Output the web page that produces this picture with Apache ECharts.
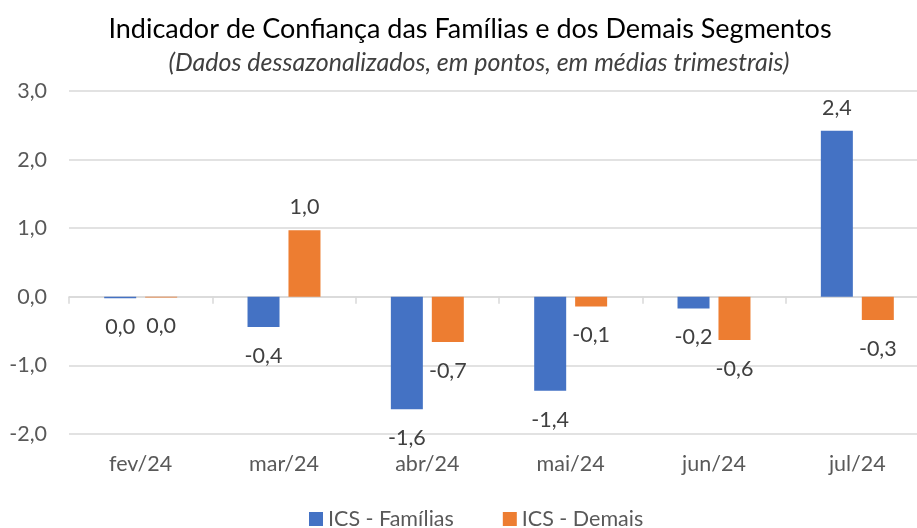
<!DOCTYPE html>
<html>
<head>
<meta charset="utf-8">
<script src="https://cdn.jsdelivr.net/npm/echarts@6/dist/echarts.min.js"></script>
<style>
  html, body { margin: 0; padding: 0; background: #fff; overflow: hidden; }
  #main { width: 935px; height: 528px; }
</style>
</head>
<body>
<div id="main"></div>
<script>
// dados
var meses = ['fev/24', 'mar/24', 'abr/24', 'mai/24', 'jun/24', 'jul/24'];
var familias = [-0.02, -0.44, -1.64, -1.37, -0.17, 2.42];
var demais = [-0.01, 0.97, -0.66, -0.14, -0.63, -0.34];
var nomes = ['ICS - Famílias', 'ICS - Demais'];
var cores = ['#4472C4', '#ED7D31'];

var fonte = 'Lato, "Noto Sans", sans-serif';
var tam = 21.5;

function fmt(v) {
    var s = (Math.round(v * 10) / 10).toFixed(1);
    if (s === '-0.0') s = '0.0';
    return s.replace('.', ',');
}

// label acima da barra se positivo, abaixo se negativo
function montaDados(lista) {
    return lista.map(function(v) {
        return {
            value: v,
            label: v < 0 ? { position: 'bottom', distance: 18 } : { position: 'top', distance: 12 }
        };
    });
}

var chart = echarts.init(document.getElementById('main'));

function serie(i, lista) {
    return {
        name: nomes[i],
        type: 'bar',
        barWidth: 32,
        barGap: '28%',
        itemStyle: { color: cores[i] },
        label: {
            show: true,
            color: '#404040',
            fontSize: tam,
            fontFamily: fonte,
            formatter: function(p) { return fmt(p.value); }
        },
        data: montaDados(lista)
    };
}

chart.setOption({
    animation: false,
    title: [{
        text: 'Indicador de Confiança das Famílias e dos Demais Segmentos',
        left: 465, top: 11, textAlign: 'center',
        textStyle: { fontFamily: fonte, fontSize: 27, fontWeight: 'normal', color: '#000' }
    }, {
        text: '(Dados dessazonalizados, em pontos, em médias trimestrais)',
        left: 474, top: 45, textAlign: 'center',
        textStyle: { fontFamily: fonte, fontSize: 25, fontStyle: 'italic', fontWeight: 'normal', color: '#404040' }
    }],
    legend: {
        top: 508,
        left: 309,
        padding: 0,
        itemWidth: 14, itemHeight: 14,
        itemGap: 49,
        icon: 'rect',
        textStyle: { fontFamily: fonte, fontSize: tam, color: '#595959' },
        data: nomes
    },
    grid: { left: 69, top: 91, width: 860, height: 343 },
    xAxis: [{
        type: 'category',
        data: meses,
        axisLine: { onZero: true, lineStyle: { color: '#d9d9d9', width: 1.5 } },
        axisTick: { show: true, length: 7, lineStyle: { color: '#d9d9d9', width: 1.5 } },
        axisLabel: { show: false }
    }, {
        type: 'category',
        data: meses,
        position: 'bottom',
        axisLine: { show: false },
        axisTick: { show: false },
        axisLabel: { margin: 19, color: '#595959', fontSize: tam, fontFamily: fonte }
    }],
    yAxis: {
        type: 'value',
        min: -2, max: 3, interval: 1,
        axisLine: { show: false },
        axisTick: { show: false },
        splitLine: { lineStyle: { color: '#d9d9d9', width: 1.5 } },
        axisLabel: {
            margin: 22, color: '#595959', fontSize: tam, fontFamily: fonte,
            formatter: function(v) { return v.toFixed(1).replace('.', ','); }
        }
    },
    series: [serie(0, familias), serie(1, demais)]
});
</script>
</body>
</html>
